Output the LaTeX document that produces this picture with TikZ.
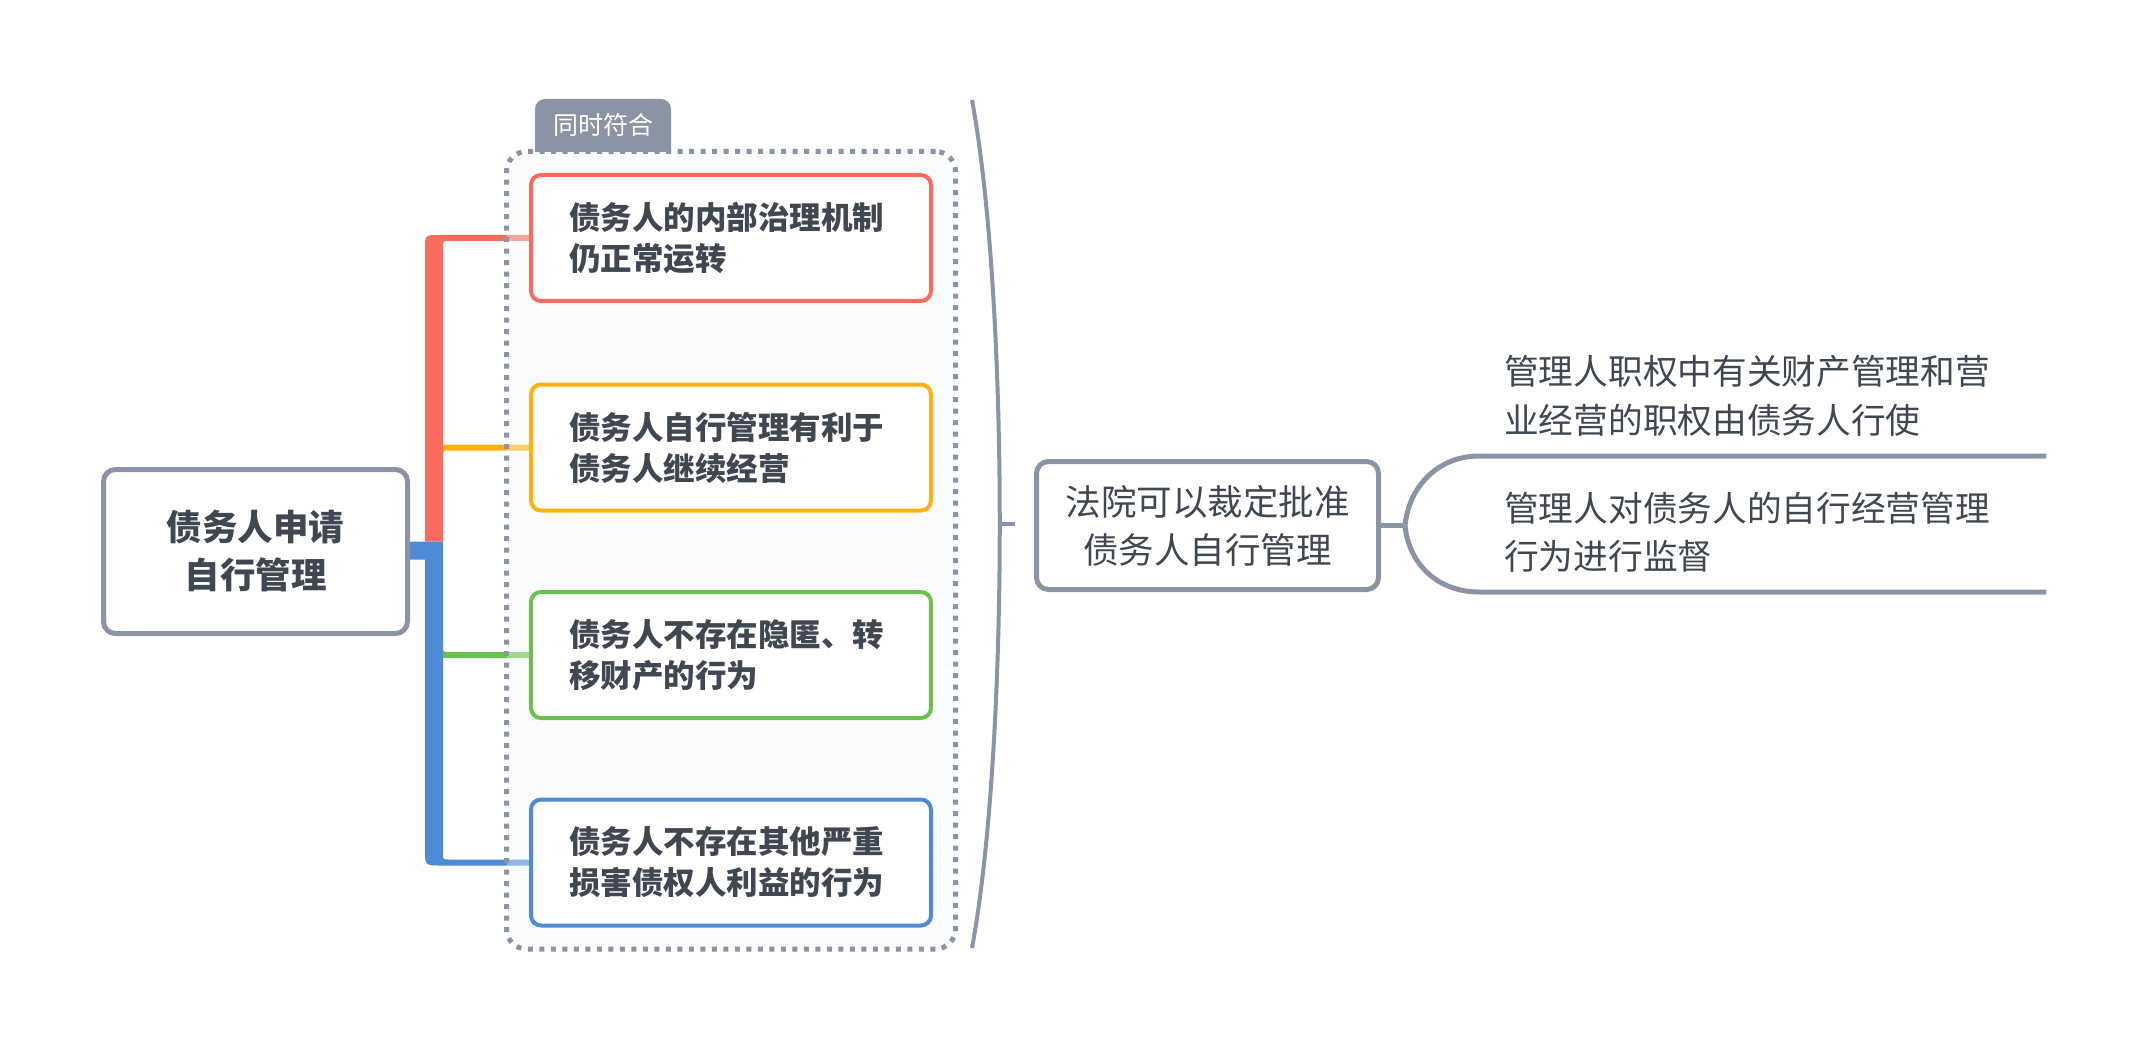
\documentclass[tikz,border=0pt]{standalone}
\usepackage{fontspec}
\setmainfont{Noto Sans CJK SC}
\usetikzlibrary{calc,fit,backgrounds}
\definecolor{cred}{HTML}{F96C5B}
\definecolor{cyel}{HTML}{FFB20F}
\definecolor{cgrn}{HTML}{6BC14E}
\definecolor{cblu}{HTML}{4F8AD6}
\definecolor{cgray}{HTML}{8A94A5}
\definecolor{ctext}{HTML}{3F4753}
\definecolor{cbox}{HTML}{F3F6FB}
\tikzset{
    roottopic/.style={draw=cgray, line width=5pt, rounded corners=12pt, fill=white, minimum width=304pt, minimum height=164pt, inner sep=0pt, align=center, text=ctext, font=\fontsize{35.5}{48}\selectfont\bfseries},
    topicbox/.style={draw=#1, line width=4pt, rounded corners=10pt, fill=white, minimum width=400pt, minimum height=126pt, inner sep=0pt, text width=324pt, align=left, text=ctext, font=\fontsize{31.5}{41}\selectfont\bfseries},
    midtopic/.style={draw=cgray, line width=5pt, rounded corners=12pt, fill=white, minimum width=342pt, minimum height=128pt, inner sep=0pt, align=center, text=ctext, font=\fontsize{35.5}{48}\selectfont},
    subtext/.style={anchor=west, inner sep=0pt, text width=520pt, align=left, text=ctext, font=\fontsize{34.7}{48.5}\selectfont},
    grpbox/.style={draw=cgray, line width=5pt, dash pattern=on 5pt off 6.5pt, rounded corners=20pt, fill=cbox, fill opacity=0.4, inner xsep=22.5pt, inner ysep=21.5pt},
    tabtext/.style={text=white, inner sep=0pt, font=\fontsize{25}{25}\selectfont},
    gline/.style={draw=cgray, line width=5pt},
    bracket/.style={draw=cgray, line width=4pt}
}
\begin{document}
\begin{tikzpicture}[x=1pt,y=-1pt]
    \useasboundingbox (0,0) rectangle (2146,1048);
    % Main topic
    \node[roottopic] (root) at (255.5,551.5) {债务人申请\\自行管理};
    % Conditions
    \foreach \i/\col/\y/\txt in {1/cred/238/{债务人的内部治理机制\\仍正常运转},
                                2/cyel/447.5/{债务人自行管理有利于\\债务人继续经营},
                                3/cgrn/655/{债务人不存在隐匿、转\\移财产的行为},
                                4/cblu/862.5/{债务人不存在其他严重\\损害债权人利益的行为}}{
        \node[topicbox=\col] (c\i) at (731,\y) {\txt};
    }
    % Court decision
    \node[midtopic] (mid) at (1207.5,525.5) {法院可以裁定批准\\债务人自行管理};
    \node[subtext] (r1) at (1504,396) {管理人职权中有关财产管理和营\\业经营的职权由债务人行使};
    \node[subtext] (r2) at (1504,532.5) {管理人对债务人的自行经营管理\\行为进行监督};
    \coordinate (jn) at ($(mid.east)+(24,0)$);
    \coordinate (u1) at ($(r1.west)+(-25,60)$);
    \coordinate (u1e) at (2046,456);
    \coordinate (u2) at ($(r2.west)+(-25,59.5)$);
    \coordinate (u2e) at (2046,592);
    \draw[gline] (mid.east) -- (jn);
    \draw[gline] (jn) .. controls +(4,-40) and +(-40,0) .. (u1) -- (u1e);
    \draw[gline] (jn) .. controls +(4,40) and +(-40,0) .. (u2) -- (u2e);

    % Brace
    \draw[bracket] (972,100) .. controls (1009,300) and (1009,748) .. (972,948);
    \coordinate (brk) at (1000,524);
    \draw[bracket] (brk) -- ++(15,0);

    \begin{scope}[on background layer]
        % Branches
        \fill[cyel] (434,444.5) -- ($(c2.west)+(0,-3)$) -- ($(c2.west)+(0,3)$) -- (449,450.5) .. controls (443,450.5) .. (443,456.5) -- (434,456.5) -- cycle;
        \fill[cgrn] (434,658) -- ($(c3.west)+(0,3)$) -- ($(c3.west)+(0,-3)$) -- (449,652) .. controls (443,652) .. (443,646) -- (434,646) -- cycle;
        \fill[cred] (425,541.5) -- (425,249) .. controls (425,235) .. (439,235) -- ($(c1.west)+(0,-3)$) -- ($(c1.west)+(0,3)$) -- (449,241) .. controls (443,241) .. (443,247) -- (443,541.5) -- cycle;
        \fill[cblu] ($(root.east)+(0,-10)$) -- (443,541.5) -- (443,853.5) .. controls (443,859.5) .. (449,859.5) -- ($(c4.west)+(0,-3)$) -- ($(c4.west)+(0,3)$) -- (441,865.5) .. controls (425,865.5) .. (425,849.5) -- (425,559.5) -- ($(root.east)+(0,8)$) -- cycle;
        % Group boundary
        \node[grpbox, fit=(c1)(c4)] (grp) {};
        \coordinate (tabsw) at ($(grp.north west)+(31,3)$);
        \fill[cgray, rounded corners=10pt] (tabsw) -- ++(0,-53) -- ++(136,0) -- ++(0,53);
    \end{scope}
    \node[tabtext] (tab) at ($(tabsw)+(68,-27)$) {同时符合};
\end{tikzpicture}
\end{document}
